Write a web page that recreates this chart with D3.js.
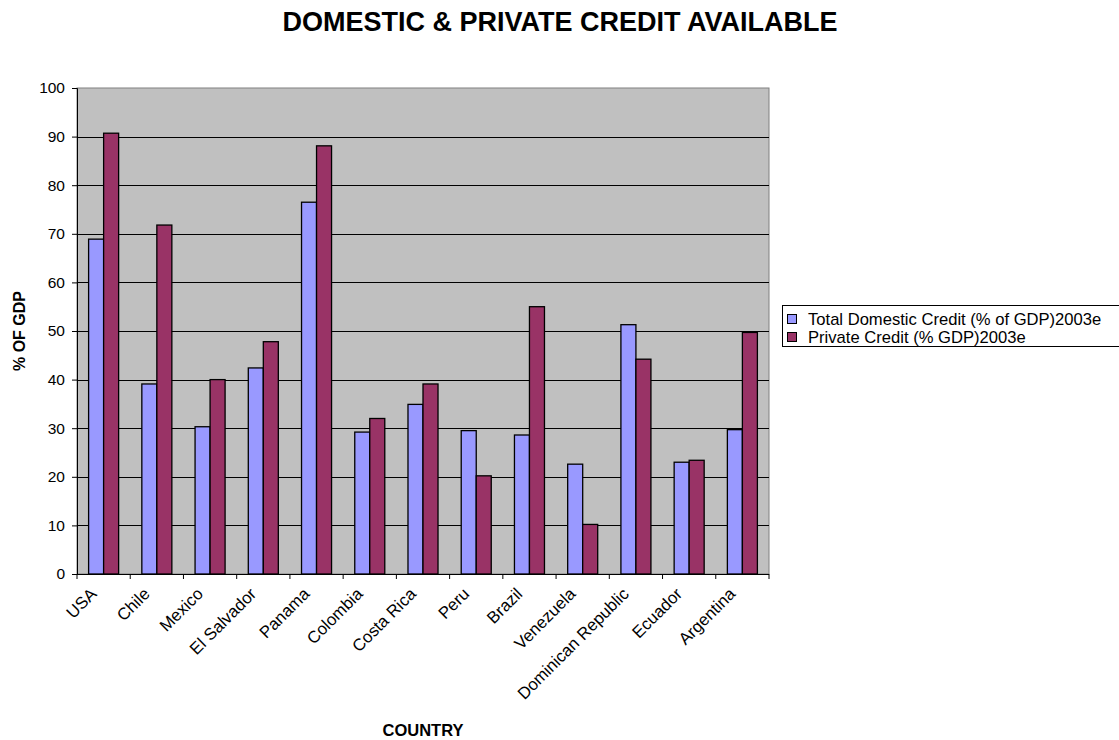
<!DOCTYPE html>
<html>
<head>
<meta charset="utf-8">
<script src="https://cdn.jsdelivr.net/npm/d3@7"></script>
<style>
  html, body { margin: 0; padding: 0; background: #fff; }
  svg { display: block; font-family: Arial, "Liberation Sans", sans-serif; }
</style>
</head>
<body>
<svg id="chart" width="1119" height="740"></svg>
<script>
// Country categories along the x axis
const countries = ["USA", "Chile", "Mexico", "El Salvador", "Panama", "Colombia", "Costa Rica",
  "Peru", "Brazil", "Venezuela", "Dominican Republic", "Ecuador", "Argentina"];

// Series values (% of GDP, 2003 estimates)
const totalDomestic = [68.9, 39.1, 30.3, 42.4, 76.5, 29.2, 34.9, 29.5, 28.6, 22.6, 51.3, 23.0, 29.7];
const privateCredit = [90.7, 71.8, 40.0, 47.8, 88.1, 32.0, 39.1, 20.2, 55.0, 10.2, 44.2, 23.4, 49.7];

const seriesNames = ["Total Domestic Credit (% of GDP)2003e", "Private Credit (% GDP)2003e"];
const seriesColors = ["#9999FF", "#993366"];
const yTicks = [0, 10, 20, 30, 40, 50, 60, 70, 80, 90, 100];

const series = [totalDomestic, privateCredit];

const svg = d3.select("#chart");
const plot = { left: 77, right: 769, top: 88, bottom: 574 };
const FONT = "Arial, 'Liberation Sans', sans-serif";

const x = d3.scaleBand().domain(countries).range([plot.left, plot.right])
  .paddingInner(0.436).paddingOuter(0.218);
const xs = d3.scaleBand().domain(d3.range(series.length)).range([0, x.bandwidth()]);
const y = d3.scaleLinear().domain([0, 100]).range([plot.bottom, plot.top]);

// Plot background
svg.append("rect")
  .attr("x", plot.left).attr("y", plot.top)
  .attr("width", plot.right - plot.left).attr("height", plot.bottom - plot.top)
  .attr("fill", "#C0C0C0").attr("stroke", "#808080").attr("stroke-width", 1);

// Horizontal gridlines
svg.append("g").selectAll("line").data(yTicks.filter(d => d > 0 && d < 100)).join("line")
  .attr("x1", plot.left).attr("x2", plot.right)
  .attr("y1", d => Math.round(y(d)) + 0.5).attr("y2", d => Math.round(y(d)) + 0.5)
  .attr("stroke", "#000").attr("stroke-width", 1);

// Bars
const groups = svg.append("g").selectAll("g").data(countries).join("g")
  .attr("transform", d => `translate(${x(d)},0)`);
groups.selectAll("rect").data((d, i) => series.map((s, k) => ({ k, v: s[i] }))).join("rect")
  .attr("x", d => xs(d.k))
  .attr("y", d => y(d.v))
  .attr("width", xs.bandwidth())
  .attr("height", d => y(0) - y(d.v))
  .attr("fill", d => seriesColors[d.k])
  .attr("stroke", "#000").attr("stroke-width", 1.3);

// Y axis
const yAxis = svg.append("g")
  .attr("transform", `translate(${plot.left},0)`)
  .call(d3.axisLeft(y).tickValues(yTicks).tickSize(5).tickPadding(7).tickFormat(d3.format("d")));
yAxis.select(".domain").attr("stroke", "#000");
yAxis.selectAll(".tick line").attr("stroke", "#000");
yAxis.selectAll("text").attr("font-size", 15.5).attr("font-family", FONT).attr("fill", "#000");

// X axis with ticks between categories
const xAxisG = svg.append("g").attr("transform", `translate(0,${plot.bottom})`);
xAxisG.append("line").attr("x1", plot.left).attr("x2", plot.right)
  .attr("y1", 0.5).attr("y2", 0.5).attr("stroke", "#000");
const boundaries = d3.range(countries.length + 1).map(i => plot.left + i * (plot.right - plot.left) / countries.length);
xAxisG.selectAll("line.tk").data(boundaries).join("line").attr("class", "tk")
  .attr("x1", d => d).attr("x2", d => d).attr("y1", 0).attr("y2", 5).attr("stroke", "#000");
xAxisG.selectAll("text").data(countries).join("text")
  .attr("transform", d => `translate(${x(d) + x.bandwidth() / 2 - 6},${21}) rotate(-45)`)
  .attr("text-anchor", "end")
  .attr("font-size", 16.8)
  .attr("fill", "#000")
  .text(d => d);

// Title
svg.append("text")
  .attr("x", 560).attr("y", 31)
  .attr("text-anchor", "middle")
  .attr("font-size", 27).attr("font-weight", "bold")
  .text("DOMESTIC & PRIVATE CREDIT AVAILABLE");

// Axis titles
svg.append("text")
  .attr("transform", `translate(25,${(plot.top + plot.bottom) / 2}) rotate(-90)`)
  .attr("text-anchor", "middle")
  .attr("font-size", 16).attr("font-weight", "bold")
  .text("% OF GDP");
svg.append("text")
  .attr("x", (plot.left + plot.right) / 2).attr("y", 736)
  .attr("text-anchor", "middle")
  .attr("font-size", 16.5).attr("font-weight", "bold")
  .text("COUNTRY");

// Legend
const legend = svg.append("g");
legend.append("rect")
  .attr("x", 782.5).attr("y", 305.5).attr("width", 360).attr("height", 41)
  .attr("fill", "#fff").attr("stroke", "#000").attr("stroke-width", 1);
const items = legend.selectAll("g").data(seriesNames).join("g")
  .attr("transform", (d, i) => `translate(787,${314 + i * 18})`);
items.append("rect").attr("x", 0.5).attr("y", 0.5).attr("width", 9).attr("height", 9)
  .attr("fill", (d, i) => seriesColors[i]).attr("stroke", "#000");
items.append("text").attr("x", 21).attr("y", 10.5)
  .attr("font-size", 16.6).attr("fill", "#000").text(d => d);
</script>
</body>
</html>
